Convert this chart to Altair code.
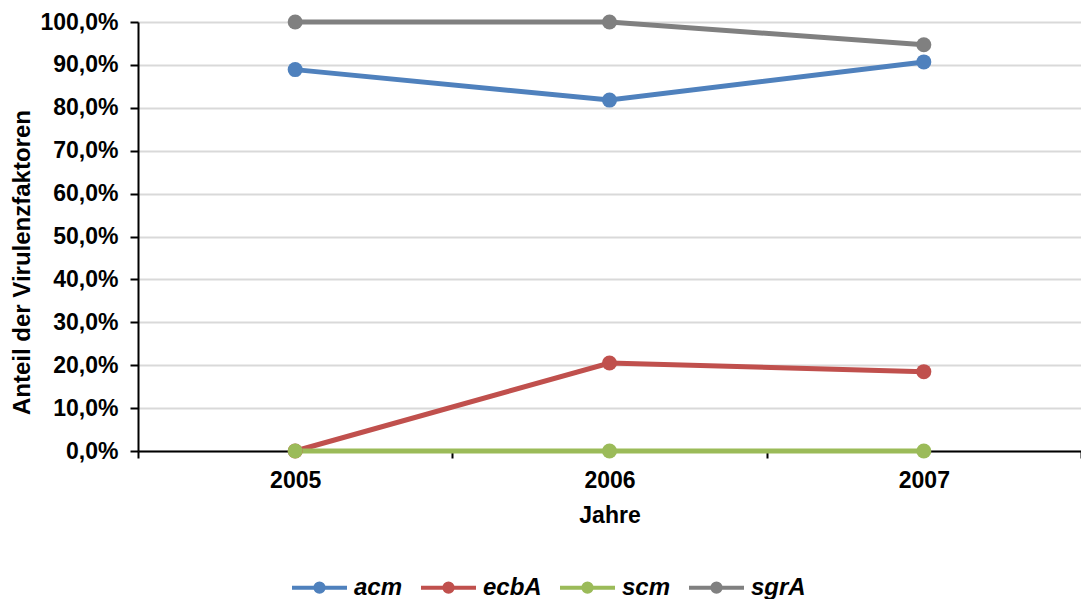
import altair as alt
import pandas as pd

years = ["2005", "2006", "2007"]
series_names = ["acm", "ecbA", "scm", "sgrA"]
acm = [0.889, 0.818, 0.907]
ecbA = [0.0, 0.205, 0.185]
scm = [0.0, 0.0, 0.0]
sgrA = [1.0, 1.0, 0.947]
colors = ["#4f81bd", "#c0504d", "#9bbb59", "#808080"]
y_ticks = [0.0, 0.1, 0.2, 0.3, 0.4, 0.5, 0.6, 0.7, 0.8, 0.9, 1.0]

rows = []
for name, values in zip(series_names, [acm, ecbA, scm, sgrA]):
    for year, v in zip(years, values):
        rows.append({"Jahr": year, "Gen": name, "Anteil": v})
df = pd.DataFrame(rows)

FONT = "Liberation Sans"

# legend glyph: a horizontal stroke with a filled dot in the middle
legend_symbol = (
    "M-1,0L1,0"
    "M-0.15,0a0.15,0.15 0 1,0 0.3,0a0.15,0.15 0 1,0 -0.3,0"
    "M-0.06,0a0.06,0.06 0 1,0 0.12,0a0.06,0.06 0 1,0 -0.12,0"
)

chart = alt.Chart(df).mark_line(
    strokeWidth=5,
    point=alt.OverlayMarkDef(size=225, filled=True, opacity=1),
).encode(
    x=alt.X(
        "Jahr:N",
        sort=years,
        scale=alt.Scale(paddingInner=0, paddingOuter=0),
        axis=alt.Axis(
            title="Jahre",
            labelAngle=0,
            tickBand="extent",
            labelFont=FONT,
            labelFontSize=23,
            labelFontWeight="bold",
            labelColor="black",
            labelPadding=11,
            titleFont=FONT,
            titleFontSize=23,
            titleFontWeight="bold",
            titleColor="black",
            titlePadding=12,
            domainColor="black",
            domainWidth=2,
            tickColor="black",
            tickWidth=2,
            tickSize=7,
            grid=False,
        ),
    ),
    y=alt.Y(
        "Anteil:Q",
        scale=alt.Scale(domain=[0, 1], nice=False),
        axis=alt.Axis(
            title="Anteil der Virulenzfaktoren",
            values=y_ticks,
            labelExpr="replace(format(datum.value, '.1%'), '.', ',')",
            labelFont=FONT,
            labelFontSize=23,
            labelFontWeight="bold",
            labelColor="black",
            labelPadding=12,
            titleFont=FONT,
            titleFontSize=24,
            titleFontWeight="bold",
            titleColor="black",
            titlePadding=5,
            titleY=240,
            domainColor="black",
            domainWidth=2,
            tickColor="black",
            tickWidth=2,
            tickSize=8,
            gridColor="#d9d9d9",
            gridWidth=2,
        ),
    ),
    color=alt.Color(
        "Gen:N",
        sort=series_names,
        scale=alt.Scale(domain=series_names, range=colors),
        legend=alt.Legend(
            title=None,
            orient="none",
            direction="horizontal",
            legendX=152,
            legendY=536,
            symbolType=legend_symbol,
            symbolSize=3025,
            symbolStrokeWidth=4,
            labelFont=FONT,
            labelFontSize=24,
            labelFontWeight="bold",
            labelFontStyle="italic",
            labelColor="black",
            labelOffset=5,
            columnPadding=10,
        ),
    ),
    order=alt.Order("Jahr:N"),
).properties(
    width=943,
    height=429,
    autosize=alt.AutoSizeParams(type="none"),
    padding={"left": 138, "top": 22, "right": 0, "bottom": 148},
).configure_view(
    stroke=None
).configure(
    background="white"
)

chart.save("out.html", embed_options={"renderer": "svg", "actions": False})
